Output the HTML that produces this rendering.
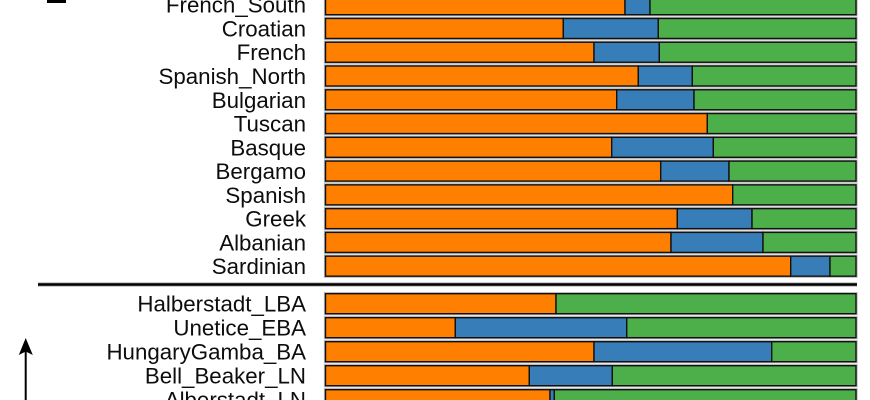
<!DOCTYPE html>
<html><head><meta charset="utf-8"><style>
html,body{margin:0;padding:0;background:#fff;}
svg{display:block;}
text{font-family:"Liberation Sans",Arial,sans-serif;font-size:22.3px;fill:#0d0d0d;}
</style></head><body>
<svg width="870" height="400" viewBox="0 0 870 400" xmlns="http://www.w3.org/2000/svg">
<rect x="47" y="0" width="19" height="3" fill="#000"/>
<g id="rows"></g>
<line x1="38" y1="284.5" x2="857" y2="284.5" stroke="#bbb" stroke-width="4.5"/>
<line x1="38" y1="284.5" x2="857" y2="284.5" stroke="#000" stroke-width="2.6"/>
<line x1="25.7" y1="348" x2="25.7" y2="400" stroke="#000" stroke-width="2"/>
<polygon points="25.7,338 32.8,355 25.7,351.5 18.8,355" fill="#000"/>
</svg>
<script>
(function(){
var data=[
["French_South",625,650,4.7],
["Croatian",563.3,658.3],
["French",594,659.3],
["Spanish_North",638.3,692.3],
["Bulgarian",616.7,694],
["Tuscan",707.3,707.3],
["Basque",611.7,713.3],
["Bergamo",660.7,729],
["Spanish",732.7,732.7],
["Greek",677.3,752],
["Albanian",671,763],
["Sardinian",790.7,830],
["Halberstadt_LBA",556,556],
["Unetice_EBA",455.3,626.7],
["HungaryGamba_BA",594,771.7],
["Bell_Beaker_LN",529.3,612.3],
["Alberstadt_LN",550,554.3]
];
var g=document.getElementById('rows');
var ns="http://www.w3.org/2000/svg";
var L=325.5,R=856;
function el(n,a){var e=document.createElementNS(ns,n);for(var k in a)e.setAttribute(k,a[k]);g.appendChild(e);return e;}
for(var i=0;i<data.length;i++){
 var d=data[i],cy;
 if(i<12) cy=4.7+i*23.77; else cy=303.7+(i-12)*24.0;
 var t=cy-10,h=20;
 el('rect',{x:L,y:t,width:R-L,height:h,fill:'none',stroke:'#b5b5b5','stroke-width':3.2});
 el('rect',{x:L,y:t,width:d[1]-L,height:h,fill:'#FF7F00',stroke:'#111','stroke-width':1.4});
 if(d[2]-d[1]>0.5) el('rect',{x:d[1],y:t,width:d[2]-d[1],height:h,fill:'#377EB8',stroke:'#111','stroke-width':1.4});
 el('rect',{x:d[2],y:t,width:R-d[2],height:h,fill:'#4DAF4A',stroke:'#111','stroke-width':1.4});
 var tx=el('text',{x:306,y:cy+8,'text-anchor':'end'});
 tx.textContent=d[0];
}
})();
</script>
</body></html>
